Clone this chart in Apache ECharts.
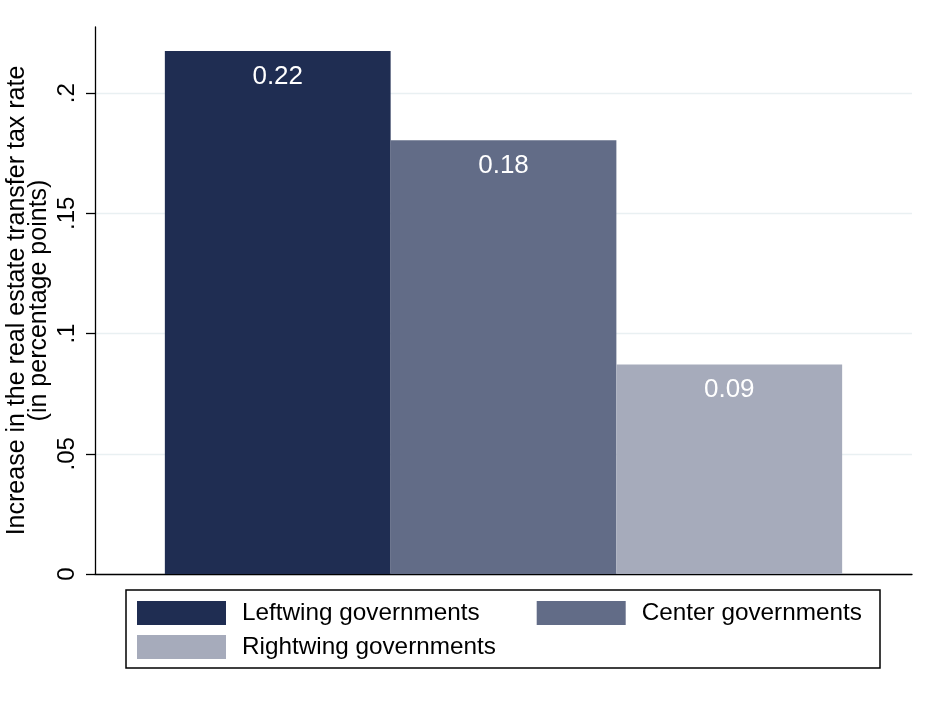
<!DOCTYPE html>
<html>
<head>
<meta charset="utf-8">
<script src="https://cdn.jsdelivr.net/npm/echarts@6/dist/echarts.min.js"></script>
<style>
html,body{margin:0;padding:0;background:#fff;}
#chart{width:935px;height:702px;}
</style>
</head>
<body>
<div id="chart"></div>
<script>
const categories = [''];
const seriesNames = ['Leftwing governments', 'Center governments', 'Rightwing governments'];
const leftwingValues = [0.2175];
const centerValues = [0.1804];
const rightwingValues = [0.0871];
const yTicks = [0, 0.05, 0.1, 0.15, 0.2];
const yMax = 0.2275;

const colors = ['#1f2d52', '#626c87', '#a6abbb'];
const FONT = '"Liberation Sans", Arial, sans-serif';

const chart = echarts.init(document.getElementById('chart'), null, {renderer: 'canvas'});

function tickFmt(v) {
  const hit = yTicks.find(t => Math.abs(t - v) < 1e-9);
  if (hit === undefined) return '';
  if (hit === 0) return '0';
  return String(hit).replace(/^0\./, '.');
}

const labelStyle = {
  show: true,
  position: 'insideTop',
  distance: 12.5,
  color: '#ffffff',
  fontSize: 26,
  fontFamily: FONT,
  formatter: p => p.value.toFixed(2)
};

const seriesData = [leftwingValues, centerValues, rightwingValues];

chart.setOption({
  animation: false,
  backgroundColor: '#ffffff',
  grid: {left: 95, right: 23, top: 27, bottom: 128, containLabel: false, outerBoundsMode: 'none'},
  xAxis: {
    type: 'category',
    data: categories,
    axisLine: {show: true, lineStyle: {color: '#000', width: 1.3}},
    axisTick: {show: false},
    axisLabel: {show: false},
    splitLine: {show: false}
  },
  yAxis: {
    type: 'value',
    min: 0,
    max: yMax,
    interval: 0.05,
    name: 'Increase in the real estate transfer tax rate\n(in percentage points)',
    nameLocation: 'middle',
    nameRotate: 90,
    nameGap: 45,
    nameMoveOverlap: false,
    nameTextStyle: {color: '#000', fontSize: 25, fontFamily: FONT, lineHeight: 22, align: 'center'},
    axisLine: {show: true, lineStyle: {color: '#000', width: 1.3}},
    axisTick: {show: true, length: 9, customValues: yTicks, lineStyle: {color: '#000', width: 1.3}},
    axisLabel: {show: true, rotate: 90, margin: 16, color: '#000', fontSize: 24, fontFamily: FONT, customValues: yTicks, formatter: tickFmt},
    splitLine: {show: true, lineStyle: {color: '#e9f0f2', width: 1.3}}
  },
  legend: [
    {
      data: [seriesNames[0], seriesNames[1]],
      left: 137, top: 601, padding: 0,
      orient: 'horizontal',
      itemWidth: 89, itemHeight: 24, itemGap: 57,
      icon: 'rect',
      textStyle: {color: '#000', fontSize: 24.3, fontFamily: FONT, padding: [0, 0, 0, 11]}
    },
    {
      data: [seriesNames[2]],
      left: 137, top: 635, padding: 0,
      orient: 'horizontal',
      itemWidth: 89, itemHeight: 24,
      icon: 'rect',
      textStyle: {color: '#000', fontSize: 24.3, fontFamily: FONT, padding: [0, 0, 0, 11]}
    }
  ],
  graphic: [{
    type: 'rect',
    shape: {x: 126, y: 590, width: 754, height: 78},
    style: {fill: 'none', stroke: '#000', lineWidth: 1.5},
    silent: true
  }],
  series: seriesNames.map((name, i) => ({
    name: name,
    type: 'bar',
    data: seriesData[i],
    barGap: '0%',
    barCategoryGap: '17.1%',
    itemStyle: {color: colors[i]},
    label: labelStyle
  }))
});
</script>
</body>
</html>
